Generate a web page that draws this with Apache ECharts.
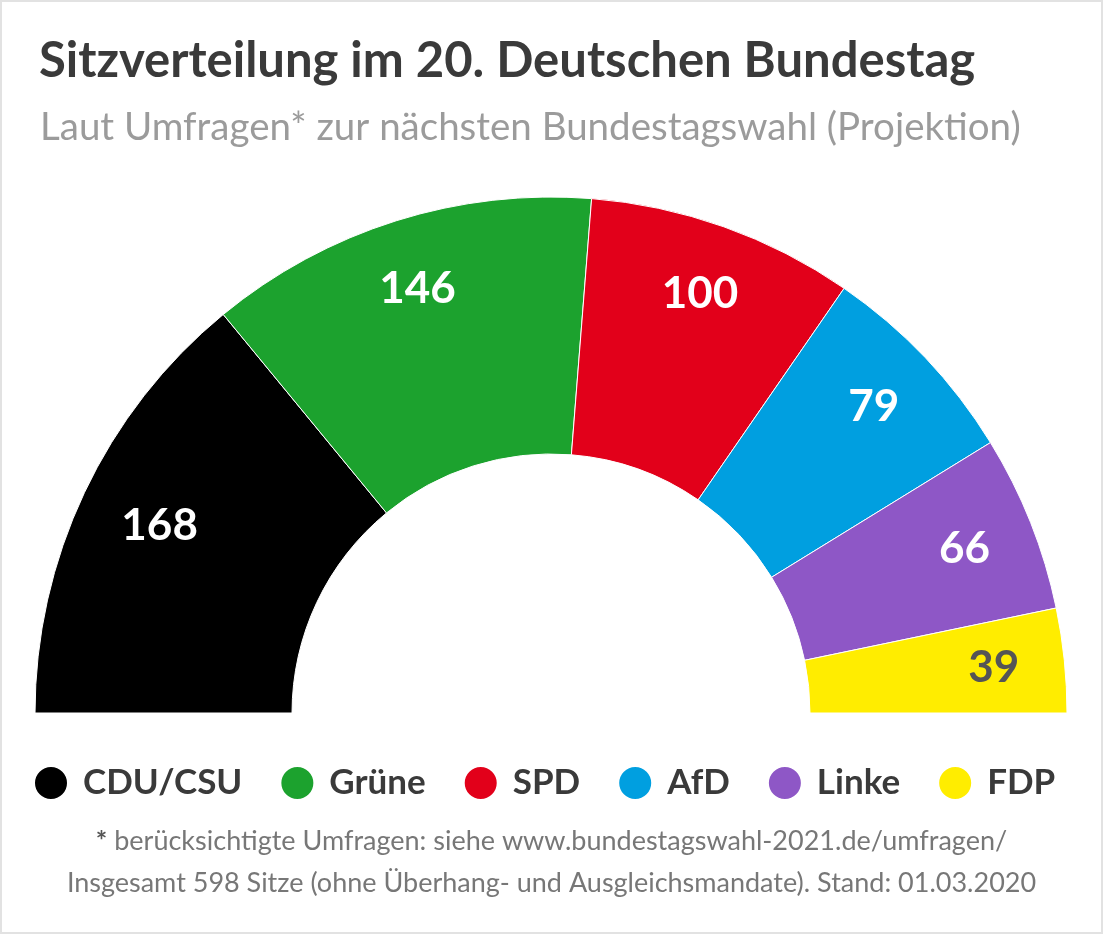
<!DOCTYPE html>
<html>
<head>
<meta charset="utf-8">
<script src="https://cdn.jsdelivr.net/npm/echarts@6/dist/echarts.min.js"></script>
<style>
  html, body { margin: 0; padding: 0; background: #fff; }
  #wrap { position: relative; width: 1103px; height: 934px; }
  #main { width: 1103px; height: 934px; }
  #frame { position: absolute; left: 0; top: 0; width: 1103px; height: 934px; box-sizing: border-box;
           border: 2px solid #e2e2e2; pointer-events: none; }
</style>
</head>
<body>
<div id="wrap">
  <div id="main"></div>
  <div id="frame"></div>
</div>
<script>
// Sitzverteilung – Projektion
var parties = ['CDU/CSU', 'Grüne', 'SPD', 'AfD', 'Linke', 'FDP'];
var seats = [168, 146, 100, 79, 66, 39];
var partyColors = ['#000000', '#1ca22e', '#e2001a', '#009fe0', '#8e57c6', '#ffed00'];
var labelColors = ['#fff', '#fff', '#fff', '#fff', '#fff', '#555555'];

var fontName = 'Lato, "Noto Sans", sans-serif';

var chart = echarts.init(document.getElementById('main'));

var pieData = parties.map(function (p, i) {
    return { name: p, value: seats[i], itemStyle: { color: partyColors[i] } };
});
var labelData = parties.map(function (p, i) {
    var lab = { color: labelColors[i] };
    if (i === 0) lab.offset = [11, 3]; // CDU-Zahl etwas weiter innen
    return { name: p, value: seats[i], label: lab };
});

chart.setOption({
    animation: false,
    title: [
        {
            text: 'Sitzverteilung im 20. Deutschen Bundestag',
            left: 34,
            top: 32,
            textStyle: { fontFamily: fontName, fontWeight: 'bold', fontSize: 49, color: '#3a3a3a' }
        },
        {
            text: 'Laut Umfragen* zur nächsten Bundestagswahl (Projektion)',
            left: 35,
            top: 103,
            textStyle: { fontFamily: fontName, fontWeight: 'normal', fontSize: 38.5, color: '#9b9b9b' }
        }
    ],
    legend: {
        data: parties,
        left: 33,
        top: 765,
        padding: 0,
        icon: 'circle',
        itemWidth: 34,
        itemHeight: 34,
        itemGap: 37,
        selectedMode: false,
        textStyle: { fontFamily: fontName, fontWeight: 'bold', fontSize: 35, color: '#3a3a3a', padding: [0, 0, 0, 10] }
    },
    series: [
        {
            type: 'pie',
            center: [551, 713],
            radius: [259, 516],
            startAngle: 180,
            endAngle: 0,
            silent: true,
            label: { show: false },
            labelLine: { show: false },
            itemStyle: { borderColor: '#fff', borderWidth: 1 },
            data: pieData
        },
        {
            // Beschriftungen der Sitzzahlen
            type: 'pie',
            center: [551, 713],
            radius: [368, 516],
            startAngle: 180,
            endAngle: 0,
            silent: true,
            itemStyle: { color: 'rgba(0,0,0,0)' },
            label: {
                show: true,
                position: 'inside',
                formatter: '{c}',
                fontFamily: fontName,
                fontWeight: 'bold',
                fontSize: 44
            },
            labelLine: { show: false },
            data: labelData
        }
    ],
    graphic: [
        {
            type: 'text',
            left: 'center',
            top: 828,
            style: {
                text: '{b|*} berücksichtigte Umfragen: siehe www.bundestagswahl-2021.de/umfragen/',
                fontFamily: fontName,
                fontSize: 27,
                fill: '#777',
                rich: { b: { fontFamily: fontName, fontSize: 27, fontWeight: 'bold', fill: '#555' } }
            }
        },
        {
            type: 'text',
            left: 'center',
            top: 870,
            style: {
                text: 'Insgesamt 598 Sitze (ohne Überhang- und Ausgleichsmandate). Stand: 01.03.2020',
                fontFamily: fontName,
                fontSize: 27,
                fill: '#777'
            }
        }
    ]
});
</script>
</body>
</html>
